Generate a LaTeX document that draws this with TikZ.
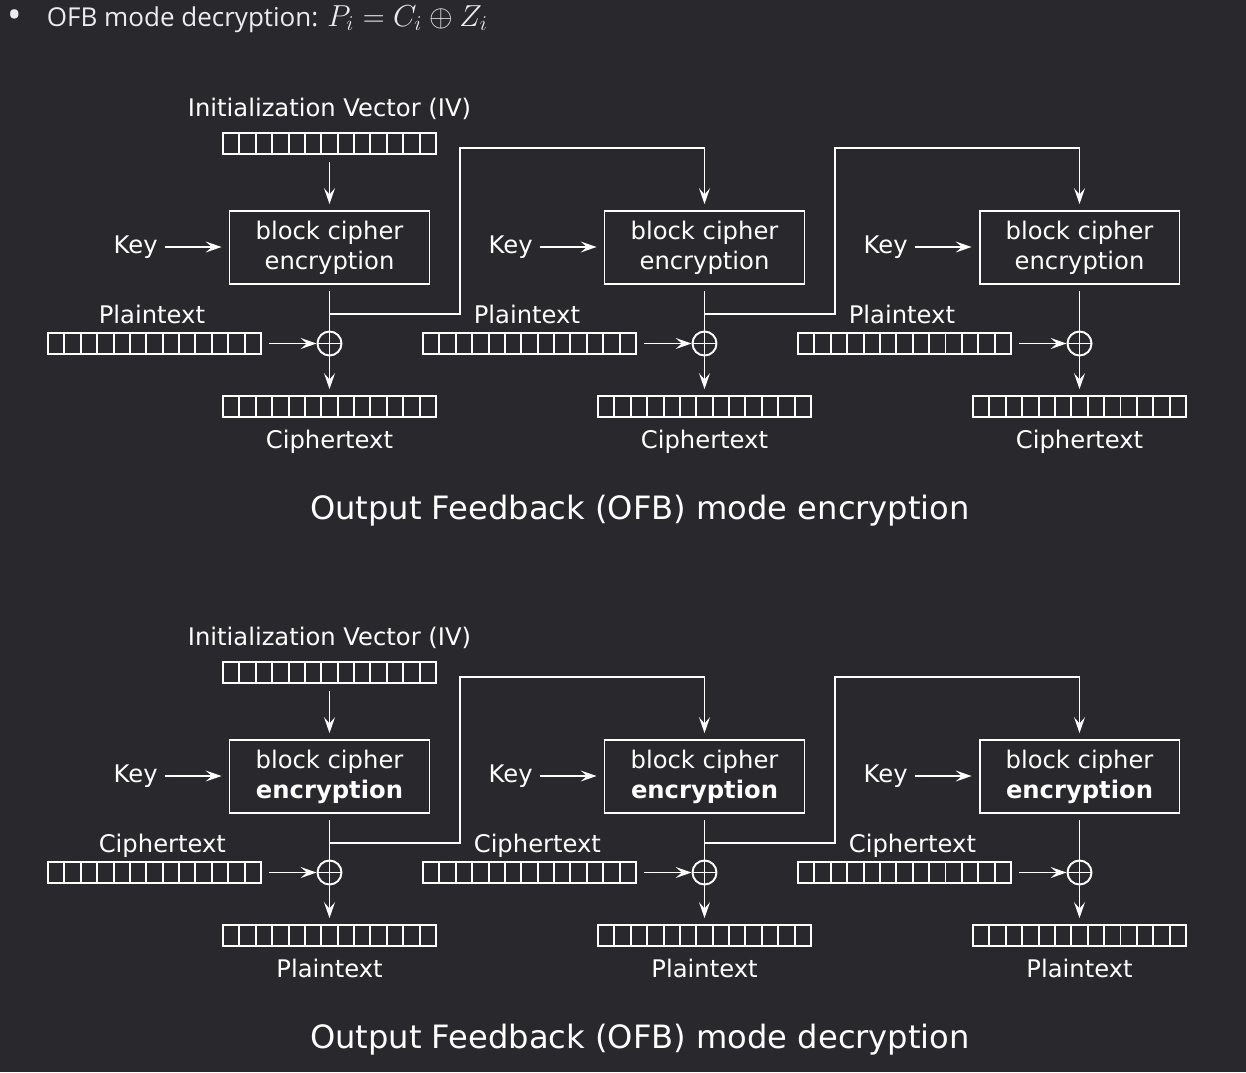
\documentclass[tikz,border=0pt]{standalone}
\usepackage[no-math]{fontspec}
\setmainfont{DejaVu Sans}
\newfontfamily\uifont{Open Sans}
\usetikzlibrary{positioning,arrows.meta}
\definecolor{bgdark}{RGB}{40,40,45}
\definecolor{uitext}{RGB}{236,236,240}
\begin{document}
\begin{tikzpicture}[x=0.02cm, y=-0.02cm, >={Stealth[length=9pt,width=6.2pt,inset=3.5pt]}, line width=1.1pt, white, font=\fontsize{13.8}{17}\selectfont,
  reg/.style={draw, rectangle, minimum width=4.26cm, minimum height=0.42cm, inner sep=0pt,
    path picture={\foreach \k in {1,...,12} \draw ([xshift=\k*0.32769cm]path picture bounding box.south west) -- ([xshift=\k*0.32769cm]path picture bounding box.north west);}},
  cipher/.style={draw, rectangle, minimum width=4cm, minimum height=1.46cm, align=center},
  xor/.style={draw, circle, minimum size=0.48cm, inner sep=0pt,
    path picture={\draw (path picture bounding box.north) -- (path picture bounding box.south) (path picture bounding box.west) -- (path picture bounding box.east);}},
  mtitle/.style={font=\fontsize{18.3}{22}\selectfont}]
\fill[bgdark] (0,0) rectangle (1246,1072);
\node (bullet) at (7,28) [anchor=base west, inner sep=0pt, text=uitext, font=\uifont\fontsize{22}{24}\selectfont] {•};
\node (head) at (46,26) [anchor=base west, inner sep=0pt, text=uitext, font=\uifont\fontsize{14.8}{18}\selectfont] {OFB mode decryption: {\fontsize{17.28}{20}\selectfont$P_i = C_i \oplus Z_i$}};
\foreach \row/\inlab/\outlab/\mode in {0/Plaintext/Ciphertext/encryption, 529/Ciphertext/Plaintext/decryption}{
  \node (ivreg-\row) at (329.5,143.5+\row) [reg] {};
  \node (iv-\row) [above=3pt of ivreg-\row] {Initialization Vector (IV)};
  \foreach \col in {0,1,2}{
    \pgfmathsetmacro\cx{329.5+375*\col}
    \node (enc-\row-\col) at (\cx,247.5+\row) [cipher] {block cipher\\ \ifnum\row=0 encryption\else\textbf{encryption}\fi};
    \node (key-\row-\col) at (\cx-165,247+\row) [anchor=east] {Key};
    \draw[->, shorten >=4pt] (key-\row-\col.east) -- (key-\row-\col.east -| enc-\row-\col.west);
    \node (inreg-\row-\col) at (\cx-175,343.5+\row) [reg] {};
    \node (in-\row-\col) at (\cx-237.5,323+\row) [anchor=base west] {\inlab};
    \node (xor-\row-\col) at (\cx,343.5+\row) [xor] {};
    \node (outreg-\row-\col) at (\cx,406.5+\row) [reg] {};
    \node (out-\row-\col) [below=3pt of outreg-\row-\col] {\outlab};
    \coordinate (tap-\row-\col) at (\cx,314+\row);
    \draw[->, shorten <=4pt] (inreg-\row-\col.east) -- (xor-\row-\col.west);
    \draw[shorten <=3.4pt] (enc-\row-\col) -- (xor-\row-\col);
    \draw[->, shorten >=3.4pt] (xor-\row-\col) -- (outreg-\row-\col);
  }
  \draw[->, shorten <=4pt, shorten >=3.4pt] (ivreg-\row) -- (enc-\row-0);
  \foreach \col/\nxt in {0/1,1/2}{
    \pgfmathsetmacro\cx{329.5+375*\col}
    \coordinate (turn-\row-\col) at (\cx+130.5,148+\row);
    \draw[->, shorten >=3.4pt] (tap-\row-\col) -| (turn-\row-\col) -| (enc-\row-\nxt.north);
  }
  \node (title-\row) at (640,511+\row) [mtitle] {Output Feedback (OFB) mode \mode};
}
\end{tikzpicture}
\end{document}
